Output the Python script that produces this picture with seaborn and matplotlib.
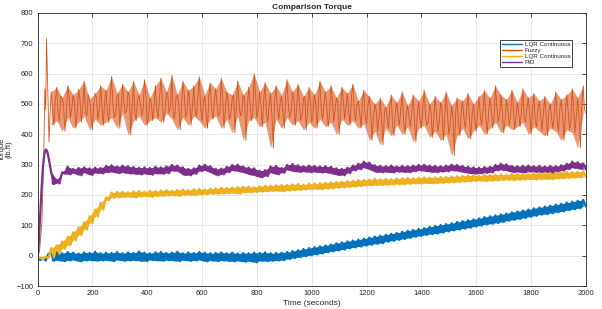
import numpy as np
import pandas as pd
import matplotlib
matplotlib.use('Agg')
import matplotlib.pyplot as plt
import seaborn as sns

# first seconds are sampled at their own times, the rest every 10 s from 50 to 2000
t_main = np.arange(50, 2001, 10)
# fuzzy is noisier, so it also has readings half way between (55, 65, ... 1995)
t_mid = np.arange(55, 2000, 10)

blue_t0 = [0, 10, 20, 30, 40]
blue_v0 = [-10, -14, -8, -16, 6]
blue_v = [
    9, -17, 11, -15, 8, -18, 12, -16, 10, -14, 7, -19, 11, -16, 9, -15, 13, -17, 8, -16,
    10, -15, 9, -18, 12, -14, 8, -17, 11, -16, 9, -15, 14, -17, 10, -18, 8, -14, 11, -16,
    12, -17, 9, -15, 10, -16, 13, -18, 8, -15, 11, -17, 9, -16, 12, -14, 10, -19, 8, -16,
    9, -18, 11, -16, 8, -17, 10, -19, 7, -17, 9, -20, 8, -18, 10, -22, 9, -17, 11, -18,
    8, -17, 9, -16, 10, -15, 12, -11, 15, -8, 18, -5, 22, -2, 25, 1, 28, 4, 31, 7,
    34, 11, 37, 14, 41, 17, 44, 20, 47, 24, 50, 27, 53, 30, 56, 33, 60, 36, 63, 39,
    66, 41, 69, 46, 72, 49, 75, 52, 79, 55, 82, 58, 85, 62, 88, 65, 91, 68, 95, 71,
    98, 73, 101, 76, 104, 80, 107, 83, 111, 86, 114, 89, 117, 92, 120, 96, 123, 99, 127, 103,
    130, 105, 133, 108, 136, 111, 139, 115, 143, 118, 146, 121, 149, 124, 152, 128, 156, 131, 159, 135,
    162, 137, 165, 140, 168, 143, 171, 146, 175, 150, 178, 153, 181, 156, 184, 162,
]

fuzzy_t0 = [0, 8, 16, 22, 27, 30, 33, 37, 42, 46]
fuzzy_v0 = [-10, 20, 110, 300, 550, 480, 715, 560, 375, 470]
fuzzy_v = [
    540, 430, 555, 445, 520, 410, 560, 455, 530, 420, 548, 440, 575, 460, 515, 415, 535, 450, 560, 430,
    545, 440, 590, 455, 525, 420, 565, 470, 540, 398, 575, 445, 530, 460, 580, 430, 520, 445, 560, 455,
    585, 440, 540, 470, 595, 450, 530, 415, 575, 455, 545, 430, 560, 460, 590, 445, 525, 420, 570, 450,
    550, 460, 585, 420, 540, 450, 520, 405, 575, 460, 530, 380, 555, 445, 600, 455, 540, 425, 570, 440,
    535, 355, 560, 450, 525, 420, 580, 455, 540, 430, 565, 445, 520, 415, 555, 440, 530, 420, 575, 450,
    540, 425, 560, 440, 520, 400, 555, 450, 535, 430, 565, 445, 510, 420, 545, 435, 525, 380, 500, 410,
    520, 365, 490, 420, 530, 395, 505, 430, 540, 400, 495, 425, 530, 375, 510, 420, 545, 430, 500, 390,
    525, 410, 505, 380, 540, 400, 495, 330, 520, 395, 510, 420, 535, 385, 500, 410, 525, 430, 545, 400,
    520, 420, 560, 440, 530, 405, 515, 430, 545, 415, 505, 425, 550, 440, 520, 400, 535, 425, 510, 410,
    525, 395, 500, 420, 540, 410, 515, 380, 530, 415, 550, 405, 520, 355, 560, 470,
]
fuzzy_v_mid = [
    480, 510, 470, 525, 495, 460, 530, 485, 505, 470, 515, 490, 475, 530, 465, 500, 520, 480, 495, 510,
    470, 520, 500, 465, 535, 485, 510, 475, 525, 490, 470, 515, 500, 480, 530, 460, 505, 495, 475, 520,
    510, 475, 530, 490, 465, 520, 500, 480, 535, 470, 515, 495, 475, 525, 490, 505, 465, 530, 480, 510,
    495, 470, 525, 480, 510, 465, 530, 490, 500, 475, 520, 485, 505, 470, 535, 480, 495, 515, 470, 500,
    460, 515, 480, 505, 470, 530, 490, 475, 520, 485, 500, 465, 525, 480, 510, 470, 495, 520, 475, 505,
    490, 470, 520, 480, 505, 465, 515, 490, 475, 525, 480, 500, 470, 510, 460, 495, 470, 455, 480, 450,
    440, 470, 455, 490, 430, 475, 460, 485, 445, 470, 455, 480, 440, 465, 450, 485, 460, 440, 475, 450,
    465, 440, 480, 450, 470, 430, 460, 475, 440, 470, 455, 480, 450, 465, 445, 475, 460, 485, 450, 470,
    480, 455, 490, 465, 475, 445, 485, 460, 495, 455, 470, 480, 450, 490, 465, 475, 445, 485, 460, 470,
    460, 480, 450, 475, 445, 485, 455, 470, 480, 440, 490, 460, 455, 500, 480,
]

yellow_t0 = [0, 10, 20, 30, 40]
yellow_v0 = [-10, -6, -12, -3, -8]
yellow_v = [
    25, -5, 34, 6, 47, 23, 62, 35, 77, 51, 93, 68, 110, 86, 130, 107, 152, 129, 174, 152,
    192, 183, 208, 191, 210, 192, 211, 193, 209, 194, 212, 192, 213, 195, 211, 196, 214, 194, 213, 197,
    215, 197, 216, 198, 214, 199, 217, 197, 218, 200, 216, 201, 219, 199, 220, 202, 218, 203, 221, 204,
    222, 204, 224, 205, 223, 206, 225, 207, 226, 205, 227, 208, 228, 209, 226, 210, 229, 211, 230, 212,
    231, 213, 232, 214, 233, 212, 234, 215, 235, 216, 236, 217, 234, 218, 237, 219, 238, 220, 239, 219,
    240, 221, 242, 222, 243, 224, 244, 225, 246, 226, 247, 228, 249, 229, 250, 231, 251, 232, 253, 233,
    252, 233, 253, 234, 252, 235, 254, 236, 255, 235, 256, 237, 255, 238, 257, 237, 258, 239, 257, 238,
    258, 239, 259, 240, 260, 241, 261, 242, 262, 243, 263, 244, 264, 245, 265, 246, 264, 247, 266, 246,
    266, 247, 267, 248, 268, 249, 267, 250, 269, 249, 270, 250, 269, 251, 270, 252, 271, 251, 272, 252,
    272, 253, 273, 252, 274, 254, 275, 255, 276, 256, 275, 257, 277, 258, 278, 259,
]

pid_t0 = [0, 5, 10, 15, 20, 25, 30, 35, 40, 45]
pid_v0 = [-10, 50, 140, 225, 295, 335, 350, 345, 325, 300]
pid_v = [
    275, 236, 250, 238, 275, 271, 293, 268, 286, 272, 289, 265, 291, 274, 288, 266, 290, 273, 289, 271,
    296, 275, 298, 276, 294, 272, 297, 274, 295, 271, 292, 270, 290, 268, 291, 270, 289, 267, 293, 271,
    291, 270, 294, 272, 299, 280, 297, 278, 291, 266, 286, 265, 288, 270, 297, 279, 300, 281, 295, 274,
    286, 265, 287, 268, 293, 275, 299, 281, 300, 278, 294, 274, 290, 268, 288, 264, 280, 258, 282, 262,
    294, 274, 296, 268, 289, 273, 299, 283, 302, 278, 298, 276, 295, 277, 297, 275, 296, 276, 294, 274,
    295, 274, 293, 271, 288, 266, 286, 265, 290, 272, 297, 281, 303, 285, 310, 290, 307, 284, 298, 276,
    296, 275, 295, 276, 297, 274, 294, 277, 296, 276, 295, 275, 297, 278, 299, 281, 300, 279, 297, 276,
    296, 275, 295, 277, 297, 278, 300, 281, 299, 279, 296, 275, 293, 272, 291, 270, 290, 271, 292, 273,
    293, 274, 299, 281, 303, 283, 301, 280, 296, 275, 295, 276, 296, 274, 297, 277, 295, 276, 296, 275,
    294, 276, 296, 274, 295, 277, 298, 280, 303, 285, 310, 290, 308, 287, 304, 284,
]

# name, early times, early values, main times, main values, colour, band opacity, raw line width
series = [
    ('LQR Continuous', blue_t0, blue_v0, [t_main], [blue_v], '#0072BD', 1.0, 1.6),
    ('Fuzzy', fuzzy_t0, fuzzy_v0, [t_main, t_mid], [fuzzy_v, fuzzy_v_mid], '#D95319', 0.6, 0.6),
    ('LQR Continuous', yellow_t0, yellow_v0, [t_main], [yellow_v], '#EDB120', 1.0, 1.6),
    ('PID', pid_t0, pid_v0, [t_main], [pid_v], '#7E2F8E', 1.0, 1.6),
]

sns.set_style('white')
plt.rcParams['font.family'] = ['Liberation Sans', 'DejaVu Sans']

fig = plt.figure(figsize=(6.02, 3.09), dpi=100)
ax = fig.add_axes([0.0623, 0.0744, 0.9110, 0.8836])

for name, t0, v0, ts, vs, color, alpha, lw in series:
    t = np.concatenate(ts)
    v = np.concatenate(vs)
    # noise band: min..max of the readings inside each 20 s window
    band = pd.DataFrame({'t': t - (t - 50) % 20, 'v': v})
    sns.lineplot(data=band, x='t', y='v', ax=ax, color=color, linewidth=0,
                 estimator='mean', errorbar=('pi', 100),
                 err_kws={'alpha': alpha, 'linewidth': 0})
    raw = pd.DataFrame({'t': np.concatenate([t0, t]), 'v': np.concatenate([v0, v])})
    sns.lineplot(data=raw, x='t', y='v', ax=ax, color=color, linewidth=lw,
                 label=name, sort=True, estimator=None)

ax.set_xlim(0, 2000)
ax.set_ylim(-100, 800)
ax.set_xticks(np.arange(0, 2001, 200))
ax.set_yticks(np.arange(-100, 801, 100))
ax.grid(True, color='#e3e3e3', linewidth=0.6)
ax.set_axisbelow(True)
ax.tick_params(direction='in', length=3, width=0.6, labelsize=5.5, colors='#262626',
               top=True, right=True, pad=3)
for s in ax.spines.values():
    s.set_color('#262626')
    s.set_linewidth(0.6)

ax.set_title('Comparison Torque', fontsize=6, fontweight='bold', pad=3)
ax.set_xlabel('Time (seconds)', fontsize=6, labelpad=2)
ax.set_ylabel('Torque\n(lb.ft)', fontsize=5.5, linespacing=1.05)
ax.yaxis.set_label_coords(-0.045, 0.5)

leg = ax.legend(loc='upper left', bbox_to_anchor=(0.838, 0.912), fontsize=4.5,
                frameon=True, fancybox=False, edgecolor='#262626', framealpha=1,
                handlelength=3.2, handletextpad=0.4, borderpad=0.3, labelspacing=0.1)
leg.get_frame().set_linewidth(0.6)
for h in leg.get_lines():
    h.set_linewidth(1.0)

fig.savefig('out.png', dpi=100)
